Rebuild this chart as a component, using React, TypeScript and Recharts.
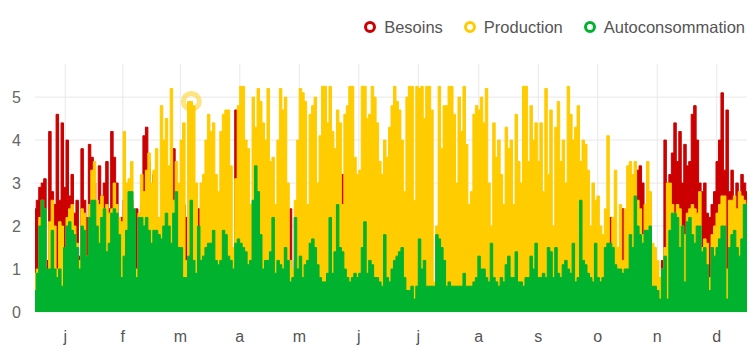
import React from 'react';
import { AreaChart, Area, XAxis, YAxis, CartesianGrid, ReferenceDot } from 'recharts';

// one value every ~1.27 day, read month by month (24 per month)
const besoins = [
  // j
  2.4, 2.6, 2.9, 3.0, 3.1, 1.2, 4.2, 2.8, 2.5, 4.6, 2.6, 4.4, 2.9, 4.0, 2.7, 3.2, 2.3, 2.6, 1.3, 3.8, 2.6, 2.2, 3.9, 3.6,
  // f
  3.0, 2.5, 3.4, 2.7, 3.0, 3.5, 2.4, 4.2, 3.6, 3.0, 2.0, 2.2, 2.6, 1.8, 2.0, 2.6, 2.3, 2.4, 2.2, 2.5, 4.1, 4.3, 3.5, 2.6,
  // m
  3.2, 2.2, 1.9, 2.0, 2.4, 2.2, 2.6, 3.3, 3.8, 2.2, 2.0, 2.4, 2.5, 2.2, 2.0, 2.0, 1.5, 2.4, 2.4, 1.2, 2.4, 1.5, 1.5, 1.3,
  // a
  1.5, 1.4, 1.5, 1.6, 1.8, 1.6, 1.4, 1.5, 1.3, 4.7, 1.8, 1.6, 1.5, 1.4, 1.3, 1.3, 1.4, 1.6, 1.5, 1.3, 1.2, 1.3, 1.2, 1.4,
  // m
  1.3, 1.2, 1.3, 1.2, 1.1, 1.3, 1.2, 2.4, 0.9, 1.2, 1.1, 1.2, 1.0, 1.1, 1.2, 1.3, 1.2, 1.1, 1.0, 1.0, 0.9, 0.9, 1.0, 1.2,
  // j
  1.0, 1.1, 1.2, 1.1, 3.2, 1.0, 0.9, 0.9, 0.9, 1.0, 0.9, 1.0, 1.1, 1.2, 1.0, 1.1, 1.0, 0.9, 0.9, 0.8, 0.8, 1.0, 0.9, 0.8,
  // j
  0.9, 1.0, 1.0, 1.1, 1.2, 0.8, 0.7, 0.7, 0.7, 0.6, 0.7, 1.0, 0.9, 1.0, 0.7, 0.7, 0.7, 0.6, 1.2, 1.1, 1.0, 0.9, 0.7, 0.8,
  // a
  0.8, 0.8, 0.7, 0.8, 0.8, 0.9, 0.8, 0.8, 0.8, 0.9, 0.9, 1.0, 1.0, 1.0, 0.9, 0.9, 1.1, 0.9, 0.9, 0.8, 0.9, 0.9, 1.0, 1.1,
  // s
  1.0, 1.0, 1.2, 0.9, 0.9, 0.9, 1.0, 1.0, 1.2, 1.1, 1.3, 1.0, 1.0, 1.1, 1.0, 1.3, 1.2, 1.0, 1.3, 1.1, 1.0, 1.2, 1.2, 1.1,
  // o
  1.1, 1.4, 1.0, 1.0, 2.0, 1.3, 1.2, 1.1, 1.0, 1.0, 1.5, 1.1, 1.0, 1.1, 1.6, 1.7, 2.2, 1.8, 1.4, 1.3, 1.4, 2.4, 1.6, 1.5,
  // n
  2.6, 2.4, 2.8, 3.3, 3.4, 3.0, 2.3, 2.6, 2.6, 1.0, 0.9, 0.8, 0.7, 1.2, 4.0, 3.0, 3.2, 3.7, 4.4, 3.5, 4.2, 3.0, 3.9, 3.4,
  // d
  3.5, 4.6, 4.8, 4.0, 3.0, 2.8, 3.0, 2.3, 2.2, 2.5, 2.8, 3.5, 4.0, 5.1, 3.3, 4.7, 2.8, 3.3, 2.5, 3.0, 2.6, 3.2, 3.0, 2.8,
];

const production = [
  // j
  0.9, 1.0, 2.2, 2.6, 2.4, 0.8, 2.1, 2.6, 2.0, 1.0, 2.1, 2.0, 0.5, 2.2, 2.4, 2.5, 2.0, 1.6, 1.2, 2.4, 2.3, 1.3, 2.5, 3.3,
  // f
  3.5, 2.6, 2.5, 2.7, 2.4, 2.5, 2.3, 2.4, 3.0, 2.5, 2.2, 2.1, 4.2, 3.0, 3.1, 3.5, 2.0, 1.0, 2.3, 3.2, 2.8, 3.3, 3.7, 3.0,
  // m
  3.3, 3.8, 2.2, 4.8, 4.0, 4.5, 3.4, 5.2, 2.6, 3.5, 3.0, 4.0, 4.4, 1.2, 4.9, 4.9, 4.8, 3.0, 1.8, 3.0, 3.2, 4.0, 4.6, 4.2,
  // a
  4.4, 3.2, 2.8, 4.2, 4.6, 4.7, 4.7, 3.4, 1.5, 3.1, 4.8, 5.25, 5.25, 4.0, 3.8, 2.5, 5.0, 4.3, 5.2, 4.9, 4.4, 4.0, 5.2, 3.5,
  // m
  3.6, 2.5, 4.0, 5.2, 4.7, 5.0, 3.0, 1.2, 1.0, 2.6, 4.0, 5.2, 5.1, 4.9, 2.5, 4.6, 4.8, 5.0, 3.0, 4.1, 5.25, 5.25, 4.4, 5.25,
  // j
  4.2, 3.8, 4.7, 4.4, 2.5, 4.6, 4.8, 5.25, 5.25, 3.6, 3.2, 3.3, 5.25, 5.25, 4.5, 4.6, 5.25, 5.0, 4.4, 3.5, 3.2, 4.0, 3.6, 4.3,
  // j
  4.8, 5.25, 4.9, 4.7, 4.0, 2.8, 5.0, 5.25, 5.25, 2.6, 5.25, 5.2, 5.25, 4.5, 5.25, 5.25, 4.7, 0.7, 2.0, 5.25, 3.8, 4.8, 4.8, 5.25,
  // a
  5.25, 4.6, 3.0, 5.0, 4.2, 5.25, 3.9, 2.5, 2.8, 4.6, 4.8, 4.7, 5.0, 4.4, 5.2, 3.0, 2.0, 4.4, 3.6, 4.0, 3.2, 2.5, 4.3, 3.8,
  // s
  4.0, 2.5, 4.6, 3.5, 3.0, 5.25, 5.25, 3.5, 4.8, 4.0, 4.4, 3.5, 4.4, 2.8, 5.2, 3.2, 4.7, 2.0, 4.3, 4.9, 3.5, 4.0, 3.0, 5.25,
  // o
  4.6, 4.0, 4.3, 4.8, 3.5, 4.0, 3.9, 3.3, 2.0, 3.0, 2.6, 2.7, 2.0, 1.8, 2.4, 4.1, 1.5, 2.2, 3.3, 1.5, 2.5, 1.2, 2.4, 3.4,
  // n
  3.5, 3.2, 3.5, 2.6, 2.4, 1.8, 2.5, 3.5, 2.8, 1.6, 1.5, 1.2, 0.8, 1.0, 1.5, 3.0, 3.0, 2.5, 2.3, 2.5, 2.4, 2.0, 1.8, 2.3,
  // d
  2.4, 2.5, 2.4, 2.3, 2.8, 1.5, 1.7, 1.6, 0.8, 1.8, 2.0, 2.3, 2.5, 2.7, 2.7, 1.0, 2.6, 2.6, 2.7, 2.4, 2.8, 2.7, 2.6, 2.5,
];

const autoconsommation = [
  // j
  0.5, 0.9, 2.0, 2.6, 2.4, 1.0, 1.0, 1.9, 1.0, 0.8, 1.0, 0.6, 1.5, 2.0, 2.1, 1.9, 1.8, 1.5, 1.0, 2.0, 1.9, 1.3, 2.2, 2.6,
  // f
  2.6, 2.0, 1.6, 2.2, 2.4, 1.4, 1.6, 2.3, 2.4, 2.3, 1.8, 0.8, 1.3, 1.9, 2.8, 2.8, 2.4, 0.8, 2.2, 2.2, 2.0, 2.2, 1.9, 1.6,
  // m
  1.9, 1.9, 1.8, 1.7, 2.0, 2.3, 2.0, 1.6, 2.3, 2.8, 1.5, 1.5, 0.8, 0.8, 1.3, 2.6, 1.2, 0.9, 2.0, 1.2, 1.3, 1.5, 1.6, 1.6,
  // a
  1.9, 1.2, 1.1, 1.2, 1.9, 1.8, 1.3, 1.2, 1.0, 1.6, 1.7, 1.6, 1.5, 1.4, 1.1, 1.2, 2.6, 3.4, 2.8, 1.8, 1.0, 1.2, 1.2, 1.4,
  // m
  2.2, 0.9, 1.2, 1.1, 1.0, 1.5, 1.2, 0.7, 0.8, 2.2, 1.0, 1.3, 0.8, 1.1, 1.2, 1.6, 1.7, 1.5, 1.1, 0.8, 0.7, 0.7, 0.9, 2.2,
  // j
  0.9, 1.4, 2.5, 1.5, 1.4, 1.0, 0.8, 0.7, 0.8, 0.9, 0.8, 0.9, 1.5, 2.1, 0.9, 1.2, 1.1, 0.8, 0.8, 0.7, 0.6, 1.8, 0.8, 0.7,
  // j
  1.0, 1.2, 1.3, 1.4, 1.5, 0.8, 0.5, 0.5, 0.6, 0.3, 0.6, 1.7, 1.0, 1.2, 0.6, 0.6, 0.6, 0.6, 1.8, 1.7, 1.5, 1.2, 0.6, 0.7,
  // a
  0.6, 0.6, 0.6, 0.6, 0.6, 0.9, 0.6, 0.6, 0.6, 0.7, 0.8, 1.3, 1.0, 1.0, 0.8, 0.7, 1.6, 0.8, 0.7, 0.6, 0.8, 0.7, 1.1, 1.3,
  // s
  0.8, 0.8, 1.4, 0.7, 0.7, 0.6, 0.8, 0.8, 1.3, 1.0, 1.6, 0.8, 0.8, 0.9, 0.8, 1.5, 1.4, 0.8, 1.5, 0.9, 0.8, 1.1, 1.2, 1.0,
  // o
  0.9, 1.6, 0.7, 0.8, 2.6, 1.2, 1.1, 0.9, 0.8, 0.7, 1.6, 0.8, 0.7, 0.8, 1.5, 1.6, 1.6, 1.5, 1.1, 1.0, 1.0, 0.9, 1.0, 1.0,
  // n
  1.8, 1.5, 2.7, 2.0, 1.8, 1.6, 1.9, 1.9, 2.0, 0.6, 0.6, 0.5, 0.3, 1.0, 1.3, 0.3, 1.9, 2.3, 2.3, 2.2, 1.5, 2.0, 0.7, 2.1,
  // d
  2.2, 1.8, 1.6, 2.0, 2.0, 1.4, 1.5, 1.1, 0.5, 1.5, 1.3, 1.5, 1.7, 2.0, 2.0, 0.3, 1.5, 1.8, 1.9, 1.5, 1.3, 1.7, 2.5, 2.5,
];

const monthLabels = ['j', 'f', 'm', 'a', 'm', 'j', 'j', 'a', 's', 'o', 'n', 'd'];
const monthMidDays = [15.5, 45, 74.5, 105, 135.5, 166, 196.5, 227.5, 258, 288.5, 319, 349.5];
const yTicks = [0, 1, 2, 3, 4, 5];

// hovered point shown with the ring in the reference
const highlightIndex = 63;

const COLORS = {
  besoins: '#cc0000',
  production: '#ffcc00',
  autoconsommation: '#00b22d',
};

const data = besoins.map((b, i) => ({
  day: (i * 365) / (besoins.length - 1),
  besoins: b,
  production: production[i],
  autoconsommation: autoconsommation[i],
}));

const legendItems = [
  { label: 'Besoins', color: COLORS.besoins },
  { label: 'Production', color: COLORS.production },
  { label: 'Autoconsommation', color: COLORS.autoconsommation },
];

const fontFamily = 'Arial, "Liberation Sans", sans-serif';

export default function App() {
  const monthIndex = (d: number) => monthMidDays.indexOf(d);
  const series = [
    { key: 'besoins', name: 'Besoins', color: COLORS.besoins },
    { key: 'production', name: 'Production', color: COLORS.production },
    { key: 'autoconsommation', name: 'Autoconsommation', color: COLORS.autoconsommation },
  ];
  return (
    <div style={{ position: 'absolute', left: 0, top: 0, width: 754, height: 355, background: '#fff', fontFamily }}>
      <div
        style={{
          position: 'absolute',
          top: 16,
          right: 9,
          display: 'flex',
          alignItems: 'center',
          gap: 21,
          fontSize: 16.5,
          lineHeight: '22px',
          color: '#555',
        }}
      >
        {legendItems.map((it) => (
          <div key={it.label} style={{ display: 'flex', alignItems: 'center', gap: 8 }}>
            <span
              style={{
                display: 'inline-block',
                width: 6,
                height: 6,
                borderRadius: '50%',
                border: `3px solid ${it.color}`,
              }}
            />
            <span>{it.label}</span>
          </div>
        ))}
      </div>
      <AreaChart width={754} height={355} data={data} margin={{ top: 64, right: 7, bottom: 0, left: 0 }}>
        <CartesianGrid stroke="#e8e8e8" horizontalValues={yTicks} verticalValues={monthMidDays} />
        <XAxis
          dataKey="day"
          type="number"
          domain={[0, 365]}
          ticks={monthMidDays}
          tickFormatter={(d) => monthLabels[monthIndex(d)] ?? ''}
          axisLine={false}
          tickLine={false}
          tickMargin={13}
          height={43}
          interval={0}
          tick={{ fill: '#555', fontSize: 16, fontFamily }}
        />
        <YAxis
          type="number"
          domain={[0, 5.77]}
          ticks={yTicks}
          axisLine={false}
          tickLine={false}
          tickMargin={8}
          width={35}
          tick={{ fill: '#666', fontSize: 16, fontFamily }}
        />
        {series.map((s) => (
          <Area
            key={s.key}
            type="step"
            dataKey={s.key}
            name={s.name}
            stroke={s.color}
            strokeWidth={1}
            fill={s.color}
            fillOpacity={1}
            dot={false}
            activeDot={false}
            isAnimationActive={false}
          />
        ))}
        <ReferenceDot
          x={data[highlightIndex].day}
          y={data[highlightIndex].production}
          r={8}
          fill="none"
          stroke={COLORS.production}
          strokeOpacity={0.5}
          strokeWidth={5}
        />
      </AreaChart>
    </div>
  );
}
